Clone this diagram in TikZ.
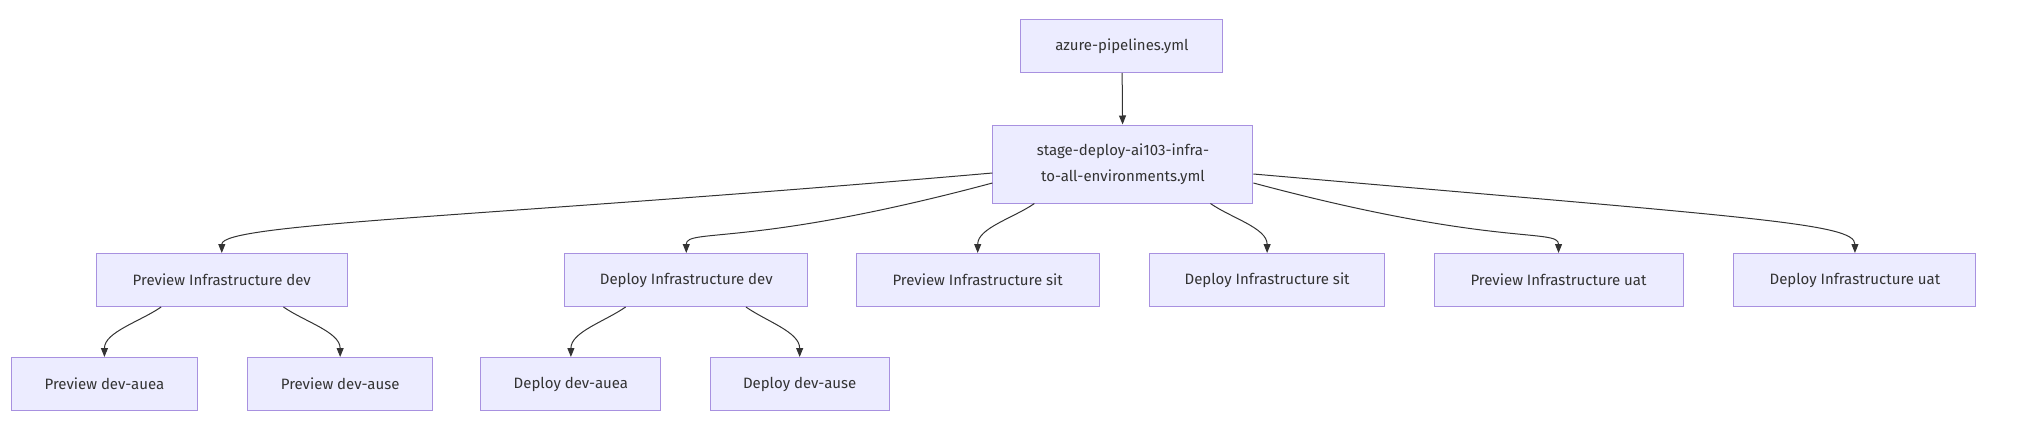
\documentclass[tikz,border=0pt]{standalone}
\usepackage{fontspec}
\setmainfont{Fira Sans}
\usetikzlibrary{arrows.meta,positioning}
\definecolor{boxfill}{HTML}{ECECFF}
\definecolor{boxline}{HTML}{A891E0}
\definecolor{edgecol}{HTML}{333333}
\tikzset{
    box/.style={draw=boxline, fill=boxfill, line width=1pt, minimum height=53pt,
        align=center, inner sep=0pt, text=edgecol, font=\fontsize{15}{26}\selectfont},
    edge/.style={draw=edgecol, line width=1pt, -{Triangle[length=9pt,width=7pt]}}
}
\begin{document}
\begin{tikzpicture}[x=0.9946pt,y=-1pt]
        \useasboundingbox (0,0) rectangle (2037,423);
        % Top
        \node[box, minimum width=202pt] (azure) at (1128,46) {azure-pipelines.yml};
        \node[box, minimum width=260pt, minimum height=78pt] (stage) at (1129,164) {stage-deploy-ai103-infra-\\to-all-environments.yml};
        
        % Environments
        \node[box, minimum width=251pt] (pid) at (223,280) {Preview Infrastructure dev};
        \node[box, minimum width=243pt] (did) at (690,280) {Deploy Infrastructure dev};
        \node[box, minimum width=243pt] (psit) at (983,280) {Preview Infrastructure sit};
        \node[box, minimum width=235pt] (dsit) at (1274,280) {Deploy Infrastructure sit};
        \node[box, minimum width=249pt] (puat) at (1567,280) {Preview Infrastructure uat};
        \node[box, minimum width=242pt] (duat) at (1865,280) {Deploy Infrastructure uat};
        
        % Regions
        \node[box, minimum width=186pt] (pdauea) at (105,384) {Preview dev-auea};
        \node[box, minimum width=185pt] (pdause) at (342,384) {Preview dev-ause};
        \node[box, minimum width=180pt] (ddauea) at (574,384) {Deploy dev-auea};
        \node[box, minimum width=179pt] (ddause) at (804,384) {Deploy dev-ause};
        
        % Connectors
        \draw[edge] (azure) -- (stage);
        \draw[edge] (stage.west |- 0,173) to[out=185, in=90, out distance=500pt, in distance=30pt] (pid.north);
        \draw[edge] (stage.west |- 0,183) to[out=195, in=90, out distance=250pt, in distance=25pt] (did.north);
        \draw[edge] (stage.south -| 1040,0) to[out=215, in=90, out distance=25pt, in distance=25pt] (psit.north);
        \draw[edge] (stage.south -| 1217,0) to[out=-35, in=90, out distance=25pt, in distance=25pt] (dsit.north);
        \draw[edge] (stage.east |- 0,183) to[out=-15, in=90, out distance=250pt, in distance=25pt] (puat.north);
        \draw[edge] (stage.east |- 0,174) to[out=-5, in=90, out distance=500pt, in distance=30pt] (duat.north);
        
        \draw[edge] (pid.south -| 162,0) to[out=215, in=90, out distance=25pt, in distance=25pt] (pdauea.north);
        \draw[edge] (pid.south -| 285,0) to[out=-35, in=90, out distance=25pt, in distance=25pt] (pdause.north);
        \draw[edge] (did.south -| 629,0) to[out=215, in=90, out distance=25pt, in distance=25pt] (ddauea.north);
        \draw[edge] (did.south -| 750,0) to[out=-35, in=90, out distance=25pt, in distance=25pt] (ddause.north);
\end{tikzpicture}
\end{document}
